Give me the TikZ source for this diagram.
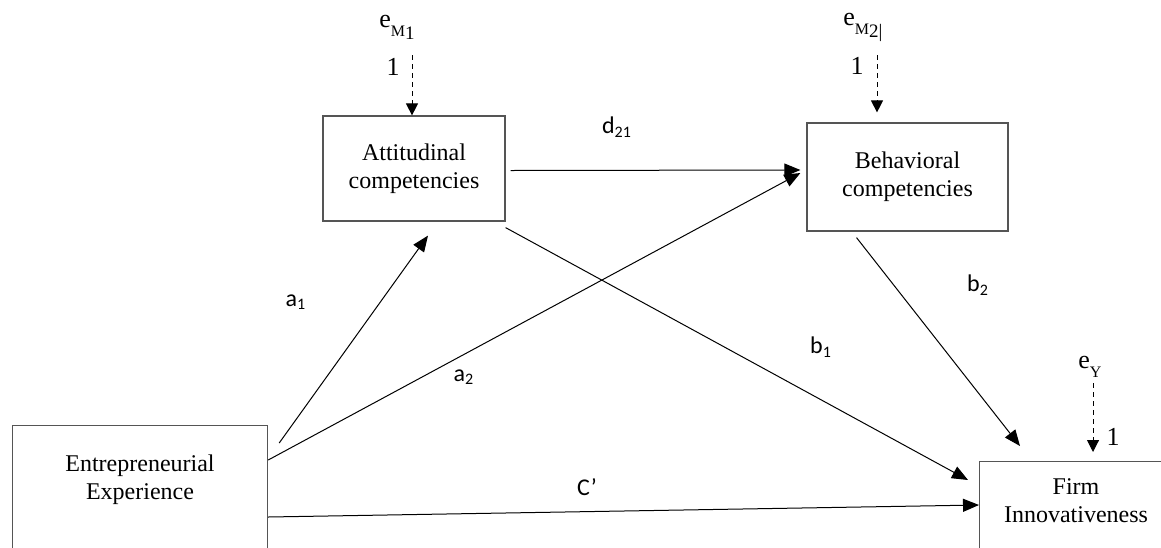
\documentclass[tikz,border=0pt]{standalone}
\usepackage{fontspec}
\setmainfont{Liberation Serif}
\newfontfamily\labelfont{Carlito}
\usetikzlibrary{positioning, arrows.meta, calc}
\definecolor{boxgray}{RGB}{85,85,85}
\newcommand{\errsub}[2]{\raisebox{-4.5pt}{\fontsize{8}{8}\selectfont #1\raisebox{-1.5pt}{\fontsize{9.5}{9.5}\selectfont #2}}}

\begin{document}
\begin{tikzpicture}[
  x=0.5pt, y=-0.5pt,
  box/.style={rectangle, draw=boxgray, line width=0.6pt, align=center, font=\fontsize{12}{14}\selectfont, inner sep=0pt},
  link/.style={-{Triangle[length=8pt, width=6.5pt]}, line width=0.5pt},
  errlink/.style={-{Triangle[length=6pt, width=6pt]}, dash pattern=on 2.5pt off 2pt, line width=0.5pt},
  coef/.style={font=\labelfont\fontsize{12}{14}\selectfont, inner sep=0pt},
  errlbl/.style={font=\fontsize{13}{15}\selectfont, inner sep=0pt}
]
\useasboundingbox (0,0) rectangle (1161,547);
\clip (0,0) rectangle (1161,547);

% boxes
\node[box, minimum width=91pt, minimum height=52.5pt] (att) at (414,168.5) {Attitudinal\\competencies};
\node[box, minimum width=100.5pt, minimum height=54pt] (beh) at (907.5,177) {Behavioral\\competencies};
\node[box, minimum width=127.5pt, minimum height=90pt, anchor=north west] (ent) at (12,425) {};
\node[box, minimum width=100pt, minimum height=80pt, anchor=north west] (firm) at (979,461) {};
\node[box, draw=none] (entText) at (140,480) {Entrepreneurial\\Experience};
\node[box, draw=none] (firmText) at (1076,501) {Firm\\Innovativeness};

% error terms
\node[errlbl, anchor=base west] (eM1) at (379,27) {e\errsub{M}{1}};
\node[errlbl] (oneM1) at (393,67) {1};
\coordinate (eM1src) at (412,55);
\node[errlbl, anchor=base west] (eM2) at (843,25) {e\errsub{M}{2|}};
\node[errlbl] (oneM2) at (857,66) {1};
\coordinate (eM2src) at (877,55);
\node[errlbl, anchor=base west] (eY) at (1078,368) {e\errsub{Y}{}};
\node[errlbl] (oneY) at (1113,437) {1};
\coordinate (eYsrc) at (1093,383);

\draw[errlink] (eM1src) -- (eM1src |- att.north);
\draw[errlink, shorten >=5pt] (eM2src) -- (eM2src |- beh.north);
\draw[errlink, shorten >=4.5pt] (eYsrc) -- (eYsrc |- firm.north);

% paths
\draw[link] ($(ent.north east)+(11,18)$) -- ($(att.south)+(14,14)$);
\draw[link] ($(ent.north east)+(0,35)$) -- ($(beh.west)+(-6,-4)$);
\draw[link] ($(ent.north east)+(0,92)$) -- ($(firm.north west)+(0,44)$);
\draw[link] ($(att.east)+(5,2)$) -- ($(beh.west)+(-6,-7)$);
\draw[link] ($(att.south east)+(0,6)$) -- ($(firm.north west)+(-11,19)$);
\draw[link] ($(beh.south)+(-51,6)$) -- ($(firm.north west)+(41,-15)$);

% coefficients
\node[coef] (d21) at (617,127) {d\textsubscript{21}};
\node[coef] (a1) at (296,302) {a\textsubscript{1}};
\node[coef] (a2) at (464,377) {a\textsubscript{2}};
\node[coef] (b1) at (821,347) {b\textsubscript{1}};
\node[coef] (b2) at (978,285) {b\textsubscript{2}};
\node[coef] (cprime) at (587,487) {C\textquoteright};
\end{tikzpicture}
\end{document}
